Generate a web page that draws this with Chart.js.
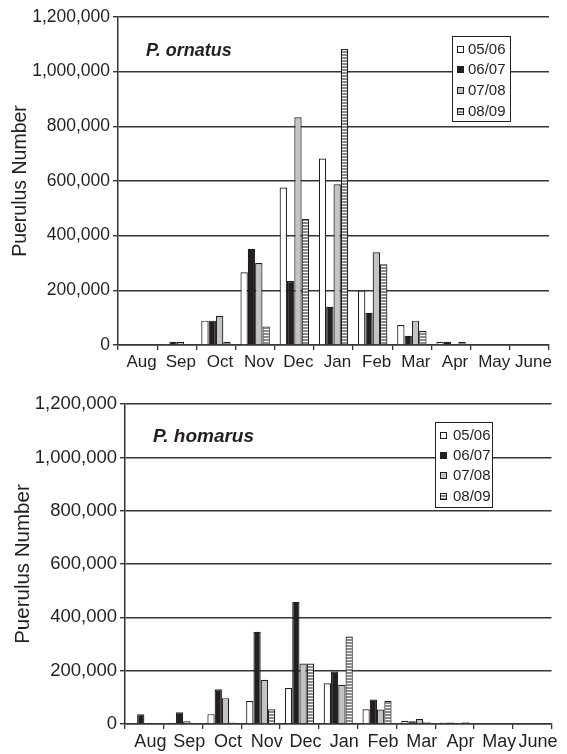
<!DOCTYPE html>
<html>
<head>
<meta charset="utf-8">
<script src="https://cdn.jsdelivr.net/npm/chart.js@4.4.0/dist/chart.umd.min.js"></script>
<style>
  html, body { margin: 0; padding: 0; background: #fff; }
  #wrap { position: relative; width: 567px; height: 754px; }
  .panel { position: absolute; left: 0; width: 567px; }
  #p1 { top: 0; height: 380px; }
  #p2 { top: 390px; height: 364px; }
  canvas { display: block; }
</style>
</head>
<body>
<div id="wrap">
  <div class="panel" id="p1"><canvas id="c1" width="567" height="380"></canvas></div>
  <div class="panel" id="p2"><canvas id="c2" width="567" height="364"></canvas></div>
</div>
<script>
// Monthly puerulus settlement, two species, four seasons
const months = ['Aug', 'Sep', 'Oct', 'Nov', 'Dec', 'Jan', 'Feb', 'Mar', 'Apr', 'May', 'June'];
const seasons = ['05/06', '06/07', '07/08', '08/09'];
const yTicks = [0, 200000, 400000, 600000, 800000, 1000000, 1200000];

// P. ornatus
const ornatus0506 = [0, 2000, 89000, 266000, 576000, 682000, 199000, 73000, 12000, 0, 0];
const ornatus0607 = [2000, 12000, 89000, 352000, 234000, 140000, 118000, 34000, 12000, 0, 0];
const ornatus0708 = [0, 12000, 106000, 300000, 833000, 588000, 339000, 89000, 0, 0, 0];
const ornatus0809 = [0, 0, 12000, 68000, 461000, 1083000, 295000, 51000, 12000, 0, 0];

// P. homarus
const homarus0506 = [0, 5000, 37000, 86000, 135000, 153000, 55000, 12000, 6000, 0, 0];
const homarus0607 = [37000, 44000, 130000, 346000, 458000, 197000, 92000, 10000, 6000, 0, 0];
const homarus0708 = [0, 10000, 97000, 166000, 227000, 147000, 54000, 19000, 0, 0, 0];
const homarus0809 = [0, 0, 6000, 55000, 227000, 328000, 86000, 7000, 7000, 0, 0];

const INK = '#231f20';
const GRID = '#353535';
const FONT = "'Liberation Sans', Arial, Helvetica, sans-serif";

// Horizontal white/grey stripes for the 08/09 season
function stripePattern() {
  const c = document.createElement('canvas');
  c.width = 4; c.height = 3;
  const g = c.getContext('2d');
  g.fillStyle = '#ffffff';
  g.fillRect(0, 0, 4, 3);
  g.fillStyle = '#8a8a8a';
  g.fillRect(0, 0, 4, 2);
  return g.createPattern(c, 'repeat');
}
const fills = ['#ffffff', INK, '#c3c3c3', stripePattern()];

function buildDatasets(series) {
  return series.map((values, i) => ({
    label: seasons[i],
    data: values,
    backgroundColor: fills[i],
    borderColor: INK,
    borderWidth: 1.2,
    borderSkipped: 'start',
    categoryPercentage: 0.75,
    barPercentage: 1.0
  }));
}

// Species name and boxed legend inside the plot area
const overlay = {
  id: 'overlay',
  afterDraw(chart, args, o) {
    const ctx = chart.ctx;
    ctx.save();
    ctx.fillStyle = INK;
    ctx.textAlign = 'left';
    ctx.textBaseline = 'alphabetic';
    ctx.font = `italic bold ${o.nameSize}px ${FONT}`;
    ctx.fillText(o.name, o.nameX, o.nameY);

    const b = o.box;
    ctx.fillStyle = '#ffffff';
    ctx.fillRect(b.x, b.y, b.w, b.h);
    ctx.strokeStyle = INK;
    ctx.lineWidth = 1;
    ctx.strokeRect(b.x + 0.5, b.y + 0.5, b.w, b.h);

    ctx.font = `${o.legendSize}px ${FONT}`;
    ctx.textBaseline = 'middle';
    chart.data.datasets.forEach((ds, i) => {
      const cy = Math.round(b.y + b.first + i * b.gap);
      ctx.fillStyle = ds.backgroundColor;
      ctx.fillRect(b.x + b.sq, cy - 3, 7, 7);
      ctx.strokeStyle = INK;
      ctx.strokeRect(b.x + b.sq + 0.5, cy - 2.5, 6, 6);
      ctx.fillStyle = INK;
      ctx.fillText(ds.label, b.x + b.tx, cy + 1);
    });
    ctx.restore();
  }
};

function makeChart(id, series, cfg) {
  return new Chart(document.getElementById(id), {
    type: 'bar',
    data: { labels: months, datasets: buildDatasets(series) },
    plugins: [overlay],
    options: {
      responsive: false,
      animation: false,
      devicePixelRatio: 1,
      layout: { padding: { top: cfg.padTop, right: cfg.padRight, left: 0, bottom: 0 } },
      plugins: {
        legend: { display: false },
        tooltip: { enabled: false },
        overlay: cfg.overlay
      },
      scales: {
        x: {
          offset: true,
          afterFit: s => { s.height = cfg.xHeight; },
          grid: {
            offset: true,
            drawOnChartArea: false,
            drawTicks: true,
            tickLength: 5,
            color: GRID,
            lineWidth: 1.3
          },
          border: { display: true, color: GRID, width: 1.5 },
          ticks: {
            color: INK,
            font: { family: FONT, size: cfg.xFont },
            padding: 2,
            labelOffset: cfg.labelOffset,
            maxRotation: 0,
            autoSkip: false
          }
        },
        y: {
          min: 0,
          max: 1200000,
          afterFit: s => { s.width = cfg.yWidth; },
          afterBuildTicks: s => { s.ticks = yTicks.map(v => ({ value: v })); },
          grid: {
            color: GRID,
            lineWidth: 1.4,
            drawTicks: true,
            tickLength: 5
          },
          border: { display: true, color: GRID, width: 1.5 },
          ticks: {
            color: INK,
            font: { family: FONT, size: cfg.yFont },
            padding: 3,
            callback: v => Number(v).toLocaleString('en-US')
          },
          title: {
            display: true,
            text: 'Puerulus Number',
            color: INK,
            font: { family: FONT, size: cfg.titleFont },
            padding: { top: cfg.titlePad, bottom: 0 }
          }
        }
      }
    }
  });
}

makeChart('c1', [ornatus0506, ornatus0607, ornatus0708, ornatus0809], {
  padTop: 17, padRight: 18, xHeight: 35, yWidth: 118,
  xFont: 17, yFont: 17.5, titleFont: 19.5, titlePad: 9, labelOffset: 4,
  overlay: {
    name: 'P. ornatus', nameSize: 18, nameX: 146, nameY: 56,
    legendSize: 15,
    box: { x: 452, y: 36, w: 58, h: 85, first: 12.5, gap: 20.8, sq: 5, tx: 16 }
  }
});

makeChart('c2', [homarus0506, homarus0607, homarus0708, homarus0809], {
  padTop: 13, padRight: 15.5, xHeight: 30, yWidth: 125,
  xFont: 18, yFont: 18.5, titleFont: 20.5, titlePad: 11, labelOffset: 6,
  overlay: {
    name: 'P. homarus', nameSize: 19, nameX: 153, nameY: 52,
    legendSize: 15,
    box: { x: 435, y: 32, w: 57, h: 85, first: 12.5, gap: 20.4, sq: 5, tx: 18 }
  }
});
</script>
</body>
</html>
